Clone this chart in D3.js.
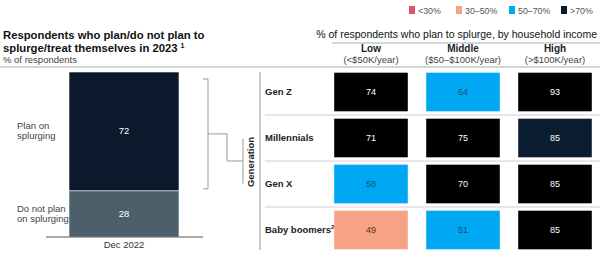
<!DOCTYPE html>
<html>
<head>
<meta charset="utf-8">
<script src="https://cdn.jsdelivr.net/npm/d3@7"></script>
<style>
  body { margin: 0; background: #fff; }
  svg { font-family: "Liberation Sans", Arial, sans-serif; }
</style>
</head>
<body>
<svg id="chart" width="600" height="254"></svg>
<script>
const width = 600,
	height = 254;

// left stacked bar
const stackCategories = ["Do not plan on splurging", "Plan on splurging"];
const stackValues = [28, 72];
const stackPeriod = ["Dec 2022"];

// right grid
const generations = ["Gen Z", "Millennials", "Gen X", "Baby boomers"];
const incomeGroups = ["Low", "Middle", "High"];
const incomeRanges = ["(<$50K/year)", "($50–$100K/year)", "(>$100K/year)"];
const gridValues = [
	[74, 64, 93],
	[71, 75, 85],
	[58, 70, 85],
	[49, 51, 85]
];

const legendLabels = ["<30%", "30–50%", "50–70%", ">70%"];
const legendBreaks = [30, 50, 70];

const colors = ["#e0506f", "#f7a284", "#00a8f3", "#000000"];
const textColors = ["#fff", "#5a3020", "#1b4a73", "#fff"];

const color = d3.scaleThreshold().domain(legendBreaks).range(colors);
const textColor = d3.scaleThreshold().domain(legendBreaks).range(textColors);

const svg = d3.select("#chart");

// ---- titles
svg.append("text")
	.attr("x", 3).attr("y", 39)
	.attr("font-size", 11.3).attr("font-weight", "bold").attr("fill", "#111")
	.text("Respondents who plan/do not plan to");
svg.append("text")
	.attr("x", 3).attr("y", 52)
	.attr("font-size", 11.3).attr("font-weight", "bold").attr("fill", "#111")
	.text("splurge/treat themselves in 2023")
	.append("tspan").attr("font-size", 7).attr("dy", -4).attr("dx", 3).text("1");
svg.append("text")
	.attr("x", 3).attr("y", 63)
	.attr("font-size", 9.5).attr("fill", "#444")
	.text("% of respondents");

svg.append("line")
	.attr("x1", 0).attr("x2", width).attr("y1", 67).attr("y2", 67)
	.attr("stroke", "#c8c8c8").attr("stroke-width", 1.5);

// ---- left bar
const yLeft = d3.scaleLinear().domain([0, 100]).range([237, 72]);
const xLeft = d3.scaleBand().domain(stackPeriod).range([69, 179]).padding(0);

const stacked = [];
let acc = 0;
stackValues.forEach((v, i) => {
	stacked.push({cat: stackCategories[i], y0: acc, y1: acc + v, v: v});
	acc += v;
});
const stackColors = ["#4e5f6c", "#0a1a2c"];

svg.selectAll("rect.stack")
	.data(stacked)
	.join("rect")
	.attr("class", "stack")
	.attr("x", xLeft(stackPeriod[0]))
	.attr("width", xLeft.bandwidth())
	.attr("y", d => yLeft(d.y1))
	.attr("height", d => yLeft(d.y0) - yLeft(d.y1))
	.attr("fill", (d, i) => stackColors[i])
	.attr("stroke", "#fff").attr("stroke-width", 0.6);

svg.selectAll("text.stackval")
	.data(stacked)
	.join("text")
	.attr("class", "stackval")
	.attr("x", xLeft(stackPeriod[0]) + xLeft.bandwidth() / 2)
	.attr("y", d => yLeft((d.y0 + d.y1) / 2) + 3)
	.attr("text-anchor", "middle")
	.attr("font-size", 9.5).attr("fill", "#fff")
	.text(d => d.v);

const stackLabelLines = [["Do not plan", "on splurging"], ["Plan on", "splurging"]];
stacked.forEach((d, i) => {
	const cy = yLeft((d.y0 + d.y1) / 2) - 2;
	stackLabelLines[i].forEach((line, j) => {
		svg.append("text")
			.attr("x", 17).attr("y", cy + j * 10)
			.attr("font-size", 9.5).attr("fill", "#444")
			.text(line);
	});
});

svg.append("line")
	.attr("x1", 46).attr("x2", 203).attr("y1", yLeft(0)).attr("y2", yLeft(0))
	.attr("stroke", "#555").attr("stroke-width", 1);

svg.append("text")
	.attr("x", xLeft(stackPeriod[0]) + xLeft.bandwidth() / 2)
	.attr("y", 248)
	.attr("text-anchor", "middle")
	.attr("font-size", 9.5).attr("fill", "#333")
	.text(stackPeriod[0]);

// ---- bracket to "Generation"
const bTop = yLeft(100) + 7, bBot = yLeft(stackValues[0]) - 2;
const bMid = (bTop + bBot) / 2;
svg.append("path")
	.attr("d", `M203,${bTop}H208V${bBot}H203M208,${bMid}H227V161H243`)
	.attr("fill", "none").attr("stroke", "#999").attr("stroke-width", 1);
svg.append("line")
	.attr("x1", 243).attr("x2", 243).attr("y1", 139).attr("y2", 184)
	.attr("stroke", "#999").attr("stroke-width", 1);
svg.append("text")
	.attr("transform", "translate(254,162) rotate(-90)")
	.attr("text-anchor", "middle")
	.attr("font-size", 9.5).attr("font-weight", "bold").attr("fill", "#222")
	.text("Generation");

// vertical separator
svg.append("line")
	.attr("x1", 260).attr("x2", 260).attr("y1", 72).attr("y2", 250)
	.attr("stroke", "#bbb").attr("stroke-width", 1.5);

// ---- grid
const xGrid = d3.scaleBand().domain(incomeGroups).range([325, 601]).paddingInner(0.2).paddingOuter(0.1);
const yGrid = d3.scaleBand().domain(generations).range([69, 253]).paddingInner(0.16).paddingOuter(0.08);

// row separators
svg.selectAll("line.rowsep")
	.data(generations.slice(1))
	.join("line")
	.attr("class", "rowsep")
	.attr("x1", 265).attr("x2", width)
	.attr("y1", d => yGrid(d) - yGrid.step() * yGrid.paddingInner() / 2)
	.attr("y2", d => yGrid(d) - yGrid.step() * yGrid.paddingInner() / 2)
	.attr("stroke", "#d0d0d0").attr("stroke-width", 1);

// row labels
const rowLabels = svg.selectAll("text.rowlab")
	.data(generations)
	.join("text")
	.attr("class", "rowlab")
	.attr("x", 265)
	.attr("y", d => yGrid(d) + yGrid.bandwidth() / 2 + 3)
	.attr("font-size", 9.5).attr("font-weight", "bold").attr("fill", "#222")
	.text(d => d);
rowLabels.filter(d => d === "Baby boomers")
	.append("tspan").attr("font-size", 6).attr("dy", -4).text("2");

const cells = [];
gridValues.forEach((row, r) => row.forEach((v, c) => {
	cells.push({gen: generations[r], inc: incomeGroups[c], v: v});
}));

svg.selectAll("rect.cell")
	.data(cells)
	.join("rect")
	.attr("class", "cell")
	.attr("x", d => xGrid(d.inc))
	.attr("y", d => yGrid(d.gen))
	.attr("width", xGrid.bandwidth())
	.attr("height", yGrid.bandwidth())
	.attr("fill", d => (d.gen === "Millennials" && d.inc === "High") ? "#0b1d30" : color(d.v));

svg.selectAll("text.cellval")
	.data(cells)
	.join("text")
	.attr("class", "cellval")
	.attr("x", d => xGrid(d.inc) + xGrid.bandwidth() / 2)
	.attr("y", d => yGrid(d.gen) + yGrid.bandwidth() / 2 + 3)
	.attr("text-anchor", "middle")
	.attr("font-size", 9).attr("fill", d => textColor(d.v))
	.text(d => d.v);

// ---- column headers
svg.append("text")
	.attr("x", 597).attr("y", 38)
	.attr("text-anchor", "end")
	.attr("font-size", 10.5).attr("fill", "#111")
	.text("% of respondents who plan to splurge, by household income");
svg.append("line")
	.attr("x1", 332).attr("x2", width).attr("y1", 43).attr("y2", 43)
	.attr("stroke", "#c8c8c8").attr("stroke-width", 1.5);

svg.selectAll("text.colhead")
	.data(incomeGroups)
	.join("text")
	.attr("class", "colhead")
	.attr("x", d => xGrid(d) + xGrid.bandwidth() / 2)
	.attr("y", 52)
	.attr("text-anchor", "middle")
	.attr("font-size", 10).attr("font-weight", "bold").attr("fill", "#222")
	.text(d => d);
svg.selectAll("text.colsub")
	.data(incomeGroups)
	.join("text")
	.attr("class", "colsub")
	.attr("x", d => xGrid(d) + xGrid.bandwidth() / 2)
	.attr("y", 63)
	.attr("text-anchor", "middle")
	.attr("font-size", 9.5).attr("fill", "#444")
	.text((d, i) => incomeRanges[i]);

// ---- legend
const legendX = [409, 456, 509, 561];
const legend = svg.selectAll("g.legend")
	.data(legendLabels)
	.join("g")
	.attr("class", "legend")
	.attr("transform", (d, i) => `translate(${legendX[i]},6)`);
legend.append("rect")
	.attr("width", 6).attr("height", 8)
	.attr("fill", (d, i) => i === 3 ? "#0b1a2a" : colors[i]);
legend.append("text")
	.attr("x", 9).attr("y", 7.5)
	.attr("font-size", 8.8).attr("fill", "#555")
	.text(d => d);
</script>
</body>
</html>
